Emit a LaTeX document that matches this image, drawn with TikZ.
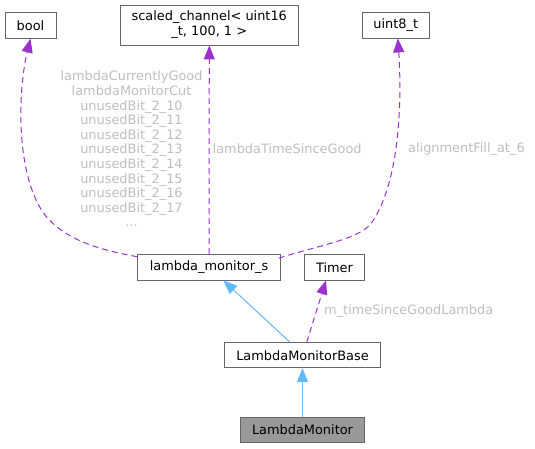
\documentclass[tikz,border=0pt]{standalone}
\usepackage{fontspec}
\setmainfont{DejaVu Sans}
\usetikzlibrary{arrows.meta,calc}
\definecolor{bordergray}{HTML}{666666}
\definecolor{labelgray}{HTML}{BEBEBE}
\definecolor{purp}{HTML}{9A32CD}
\definecolor{blu}{HTML}{63B8FF}
\tikzset{
  cls/.style={draw=bordergray, line width=0.9pt, fill=white, inner sep=0pt, text=black,
    font=\fontsize{12.9}{15}\selectfont, align=center},
  usage/.style={draw=purp, line width=1pt, dash pattern=on 6pt off 4pt,
    -{Triangle[length=14pt,width=11pt]}},
  inherit/.style={draw=blu, line width=1pt, -{Triangle[length=14pt,width=11pt]}},
  lbl/.style={text=labelgray, inner sep=0pt, font=\fontsize{12.9}{14.6}\selectfont, align=center}
}
\begin{document}
\begin{tikzpicture}[x=1pt,y=-1pt]
\useasboundingbox (0,0) rectangle (535,448);
\node[cls, minimum width=51pt, minimum height=25.3pt] (bool) at (30.5,25.5) {bool};
\node[cls, minimum width=178.7pt, minimum height=40pt] (sc) at (209.3,25) {scaled\_channel< uint16\\\_t, 100, 1 >};
\node[cls, minimum width=67pt, minimum height=25.3pt] (u8) at (395.8,25.3) {uint8\_t};
\node[cls, minimum width=142.6pt, minimum height=25.3pt] (lms) at (209,267.3) {lambda\_monitor\_s};
\node[cls, minimum width=60.4pt, minimum height=25.3pt] (timer) at (334.5,267.3) {Timer};
\node[cls, minimum width=156.4pt, minimum height=25pt] (base) at (302.5,355.2) {LambdaMonitorBase};
\node[cls, minimum width=124.4pt, minimum height=25pt, fill={rgb,255:red,153;green,153;blue,153}] (lm) at (302.5,429.8) {LambdaMonitor};

\coordinate (bs) at ($(lms.north west)+(0,2.5)$);
\draw[usage] (bs) .. controls (100,250) and (65,240) .. (45,215) .. controls (15,175) and (18,90) .. (bool.south);
\draw[usage] (lms.north) -- (sc.south);
\coordinate (us) at ($(lms.north east)+(-2,4)$);
\draw[usage] (us) .. controls (320,245) and (355,240) .. (370,225) .. controls (400,185) and (402,100) .. ($(u8.south)+(2,0)$);
\draw[inherit] ($(base.north)+(-12.5,0)$) -- ($(lms.south)+(14.3,0)$);
\draw[usage] ($(base.north)+(4.2,0)$) -- ($(timer.south)+(-8.5,0)$);
\draw[inherit] (lm.north) -- (base.south);

\node[lbl] (l1) at (131.5,149) {lambdaCurrentlyGood\\lambdaMonitorCut\\unusedBit\_2\_10\\unusedBit\_2\_11\\unusedBit\_2\_12\\unusedBit\_2\_13\\unusedBit\_2\_14\\unusedBit\_2\_15\\unusedBit\_2\_16\\unusedBit\_2\_17\\...};
\node[lbl, anchor=west] (l2) at (212.5,149) {lambdaTimeSinceGood};
\node[lbl, anchor=west] (l3) at (408,149) {alignmentFill\_at\_6};
\node[lbl, anchor=west] (l4) at (324,310.7) {m\_timeSinceGoodLambda};
\end{tikzpicture}
\end{document}
